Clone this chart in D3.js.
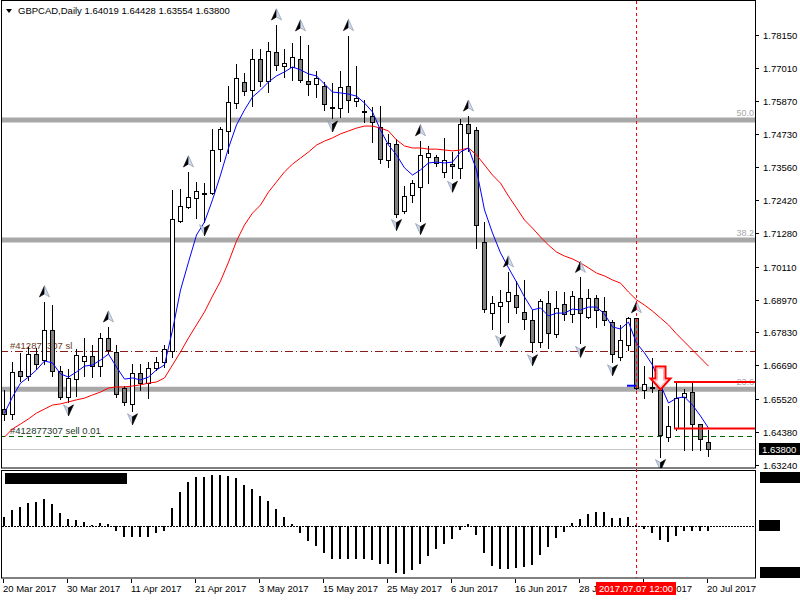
<!DOCTYPE html>
<html>
<head>
<meta charset="utf-8">
<script src="https://d3js.org/d3.v7.min.js"></script>
<style>
  body { margin: 0; background: #fff; }
  svg { display: block; font-family: "Liberation Sans", Arial, sans-serif; font-size: 9.5px; }
</style>
</head>
<body>
<script>
// GBPCAD daily, 20 Mar 2017 .. 20 Jul 2017 (89 bars)
const symbolTitle = "GBPCAD,Daily  1.64019 1.64428 1.63554 1.63800";

const open = [1.6517,1.6500,1.6649,1.6633,1.6708,1.6686,1.6790,1.6649,1.6560,1.6623,
  1.6684,1.6701,1.6666,1.6764,1.6715,1.6591,1.6535,1.6642,1.6608,1.6660,
  1.6680,1.6720,1.7171,1.7218,1.7249,1.7263,1.7267,1.7420,1.7483,1.7579,
  1.7652,1.7624,1.7732,1.7655,1.7756,1.7708,1.7705,1.7732,1.7655,1.7645,
  1.7638,1.7563,1.7562,1.7638,1.7586,1.7549,1.7535,1.7497,1.7381,1.7436,
  1.7205,1.7259,1.7289,1.7391,1.7391,1.7339,1.7367,1.7355,1.7505,1.7485,
  1.7096,1.6852,1.6873,1.6891,1.6912,1.6853,1.6826,1.6749,1.6884,1.6777,
  1.6881,1.6847,1.6901,1.6838,1.6901,1.6858,1.6818,1.6699,1.6740,1.6832,
  1.6583,1.6589,1.6583,1.6421,1.6450,1.6560,1.6575,1.6464,1.64019];
const high = [1.6583,1.6680,1.6712,1.6732,1.6729,1.6889,1.6878,1.6666,1.6656,1.6725,
  1.6764,1.6740,1.6782,1.6802,1.6739,1.6598,1.6673,1.6673,1.6680,1.6698,
  1.6739,1.7277,1.7281,1.7340,1.7305,1.7303,1.7489,1.7497,1.7638,1.7714,
  1.7683,1.7768,1.7767,1.7791,1.7850,1.7767,1.7787,1.7812,1.7780,1.7690,
  1.7653,1.7649,1.7691,1.7813,1.7709,1.7590,1.7566,1.7569,1.7470,1.7453,
  1.7291,1.7312,1.7448,1.7430,1.7399,1.7457,1.7410,1.7524,1.7534,1.7497,
  1.7166,1.6911,1.6930,1.6993,1.6963,1.6965,1.6861,1.6898,1.6927,1.6928,
  1.6924,1.6927,1.6974,1.6935,1.6913,1.6905,1.6826,1.6809,1.6838,1.6834,
  1.6666,1.6693,1.6593,1.6528,1.6612,1.6586,1.6606,1.6465,1.64428];
const low = [1.6479,1.6483,1.6614,1.6618,1.6656,1.6673,1.6633,1.6552,1.6542,1.6562,
  1.6633,1.6628,1.6633,1.6712,1.6560,1.6531,1.6511,1.6583,1.6555,1.6653,
  1.6663,1.6699,1.7167,1.7215,1.7180,1.7167,1.7265,1.7378,1.7407,1.7562,
  1.7607,1.7570,1.7638,1.7618,1.7694,1.7670,1.7659,1.7653,1.7607,1.7601,
  1.7555,1.7527,1.7532,1.7549,1.7569,1.7513,1.7445,1.7371,1.7356,1.7185,
  1.7198,1.7237,1.7171,1.7300,1.7361,1.7323,1.7318,1.7318,1.7413,1.7075,
  1.6855,1.6794,1.6782,1.6820,1.6849,1.6794,1.6716,1.6734,1.6728,1.6766,
  1.6826,1.6819,1.6745,1.6832,1.6803,1.6809,1.6681,1.6687,1.6722,1.6586,
  1.6554,1.6577,1.6352,1.6407,1.6444,1.6375,1.6375,1.6375,1.63554];
const close = [1.6500,1.6646,1.6633,1.6708,1.6673,1.6790,1.6649,1.6560,1.6625,1.6705,
  1.6701,1.6666,1.6764,1.6722,1.6570,1.6542,1.6642,1.6608,1.6660,1.6680,
  1.6725,1.7177,1.7220,1.7253,1.7275,1.7263,1.7416,1.7489,1.7583,1.7666,
  1.7622,1.7732,1.7655,1.7760,1.7711,1.7718,1.7739,1.7659,1.7645,1.7666,
  1.7576,1.7563,1.7635,1.7590,1.7596,1.7549,1.7512,1.7384,1.7439,1.7193,
  1.7257,1.7300,1.7398,1.7405,1.7370,1.7380,1.7361,1.7505,1.7474,1.7154,
  1.6865,1.6884,1.6889,1.6922,1.6870,1.6831,1.6751,1.6892,1.6780,1.6867,
  1.6847,1.6909,1.6849,1.6901,1.6861,1.6826,1.6707,1.6757,1.6832,1.6589,
  1.6604,1.6589,1.6427,1.6458,1.6554,1.6572,1.6464,1.6412,1.63800];

// moving averages as shown on the chart
const maFast = [1.6503,1.6559,1.6607,1.6628,1.6653,1.6684,1.6677,1.6639,1.6628,1.6646,
  1.6666,1.6670,1.6687,1.6708,1.6663,1.6621,1.6625,1.6618,1.6628,1.6653,
  1.6670,1.6791,1.6930,1.7027,1.7121,1.7166,1.7243,1.7329,1.7423,1.7503,
  1.7555,1.7600,1.7624,1.7652,1.7673,1.7687,1.7704,1.7694,1.7680,1.7673,
  1.7645,1.7617,1.7614,1.7610,1.7603,1.7579,1.7548,1.7485,1.7433,1.7399,
  1.7354,1.7329,1.7347,1.7371,1.7374,1.7371,1.7374,1.7409,1.7423,1.7347,
  1.7208,1.7128,1.7059,1.7007,1.6958,1.6906,1.6861,1.6868,1.6840,1.6850,
  1.6850,1.6864,1.6861,1.6871,1.6871,1.6847,1.6802,1.6795,1.6819,1.6746,
  1.6712,1.6670,1.6601,1.6538,1.6555,1.6559,1.6531,1.6493,1.6451];
const maSlow = [1.6420,1.6448,1.6465,1.6483,1.6503,1.6517,1.6531,1.6535,1.6542,1.6549,
  1.6555,1.6566,1.6576,1.6590,1.6594,1.6594,1.6597,1.6601,1.6607,1.6611,
  1.6625,1.6670,1.6715,1.6764,1.6809,1.6854,1.6909,1.6961,1.7027,1.7100,
  1.7156,1.7197,1.7225,1.7270,1.7305,1.7340,1.7367,1.7388,1.7409,1.7433,
  1.7447,1.7458,1.7472,1.7482,1.7492,1.7499,1.7499,1.7492,1.7482,1.7451,
  1.7430,1.7423,1.7423,1.7419,1.7419,1.7416,1.7413,1.7416,1.7423,1.7399,
  1.7364,1.7329,1.7301,1.7256,1.7215,1.7173,1.7145,1.7114,1.7086,1.7062,
  1.7048,1.7038,1.7024,1.7007,1.6989,1.6979,1.6965,1.6954,1.6923,1.6896,
  1.6878,1.6857,1.6833,1.6809,1.6778,1.6750,1.6722,1.6694,1.6666];

// oscillator histogram (sub window), in 1e-4 units
const osc = [27,47,57,67,70,80,65,37,20,17,10,1,7,5,
  -16,-33,-35,-35,-33,-23,-15,
  52,100,132,147,147,152,152,149,142,122,110,89,75,50,25,4,
  -23,-45,-61,-81,-100,-100,-100,-100,-101,-103,-116,-116,-141,-146,-133,-116,-90,-71,-55,-40,-13,
  5,
  -28,-83,-120,-131,-131,-128,-125,-118,-88,-65,-36,-18,
  9,19,35,40,40,22,22,25,3,
  -11,-21,-43,-48,-31,-16,-15,-15,-15];

// fractal arrows
const upArrows = [5,13,23,34,37,43,52,58,63,72,79];
const downArrows = [8,16,25,41,49,52,56,62,66,72,76,82];

// fibonacci levels
const fibLevels = [1.7520, 1.7104, 1.6586];
const fibLabels = ["50.0", "38.2", "23.6"];

// order lines
const slPrice = 1.6719, slLabel = "#412877307 sl";
const openPrice = 1.6424, openLabel = "#412877307 sell 0.01";
const bidPrice = 1.63800;

// zone lines + signal arrow
const zoneStart = 84, zoneTop = 1.6611, zoneBottom = 1.6450;
const signalIdx = 82, signalPrice = 1.6665;
const markIdx = [78, 79], markPrice = 1.6598;
const cursorIdx = 79, cursorLabel = "2017.07.07 12:00";

// axes
const priceTicks = [1.78150,1.77010,1.75870,1.74730,1.73560,1.72420,1.71280,1.70110,1.68970,1.67830,1.66690,1.65520,1.64380,1.63240];
const dateTickIdx = [0,8,16,24,32,40,48,56,64,72,80,88];
const dateTicks = ["20 Mar 2017","30 Mar 2017","11 Apr 2017","21 Apr 2017","3 May 2017","15 May 2017","25 May 2017","6 Jun 2017","16 Jun 2017","28 Jun 2017","10 Jul 2017","20 Jul 2017"];

const width = 800, height = 600;
const plotRight = 755, mainBottom = 468, subTop = 471, subBottom = 578;

const svg = d3.select("body").append("svg").attr("width", width).attr("height", height);

const x = d3.scaleLinear().domain([0, 88]).range([4, 708]);
const y = d3.scaleLinear().domain([1.63125, 1.79365]).range([mainBottom, 0]);
const yo = d3.scaleLinear().domain([-157, 164]).range([subBottom, subTop]);
const px = i => Math.round(x(i));
const py = v => Math.round(y(v)) + 0.5;

svg.append("clipPath").attr("id", "mainClip").append("rect")
  .attr("x", 1).attr("y", 1).attr("width", plotRight - 1).attr("height", mainBottom - 1);
const main = svg.append("g").attr("clip-path", "url(#mainClip)");

// fibo levels
fibLevels.forEach((v, k) => {
  main.append("line").attr("x1", 0).attr("x2", plotRight).attr("y1", y(v)).attr("y2", y(v))
    .attr("stroke", "#a8a8a8").attr("stroke-width", 5);
  main.append("text").attr("x", plotRight - 1).attr("y", y(v) - 4).attr("text-anchor", "end")
    .attr("fill", "#a8a8a8").attr("font-size", "9px").text(fibLabels[k]);
});

// order lines
main.append("line").attr("x1", 0).attr("x2", plotRight).attr("y1", py(slPrice)).attr("y2", py(slPrice))
  .attr("stroke", "#8b1a1a").attr("stroke-dasharray", "8,3,1,3");
main.append("text").attr("x", 10).attr("y", py(slPrice) - 3).attr("fill", "#6b3b22").text(slLabel);
main.append("line").attr("x1", 0).attr("x2", plotRight).attr("y1", py(openPrice)).attr("y2", py(openPrice))
  .attr("stroke", "#006400").attr("stroke-dasharray", "5,4");
main.append("text").attr("x", 10).attr("y", py(openPrice) - 3).attr("fill", "#1e3a2a").text(openLabel);
main.append("line").attr("x1", 0).attr("x2", plotRight).attr("y1", py(bidPrice)).attr("y2", py(bidPrice))
  .attr("stroke", "#c8c8c8");

// candles
const idx = d3.range(open.length);
const candle = main.selectAll("g.candle").data(idx).join("g").attr("class", "candle");
candle.append("line")
  .attr("x1", i => px(i) + 0.5).attr("x2", i => px(i) + 0.5)
  .attr("y1", i => Math.round(y(high[i]))).attr("y2", i => Math.round(y(low[i])) + 1)
  .attr("stroke", "#000");
candle.filter(i => open[i] !== close[i]).append("rect")
  .attr("x", i => px(i) - 1.5).attr("width", 4)
  .attr("y", i => py(Math.max(open[i], close[i])))
  .attr("height", i => Math.max(1, Math.round(y(Math.min(open[i], close[i]))) - Math.round(y(Math.max(open[i], close[i])))))
  .attr("fill", i => close[i] > open[i] ? "#fff" : "#808080")
  .attr("stroke", "#000");
candle.filter(i => open[i] === close[i]).append("rect")
  .attr("x", i => px(i) - 2).attr("width", 5)
  .attr("y", i => Math.round(y(close[i])) - 1).attr("height", 2).attr("fill", "#000");

// moving averages
const maLine = arr => d3.line().x((d, i) => x(i) + 0.5).y(d => y(d))(arr);
main.append("path").attr("d", maLine(maSlow)).attr("fill", "none").attr("stroke", "#ff0000");
main.append("path").attr("d", maLine(maFast)).attr("fill", "none").attr("stroke", "#0000ff");
main.append("line").attr("x1", px(markIdx[0]) - 1).attr("x2", px(markIdx[1]))
  .attr("y1", y(markPrice)).attr("y2", y(markPrice)).attr("stroke", "#0000ff").attr("stroke-width", 2);

// fractal arrows
function arrow(cx, cy, up) {
  const s = up ? 1 : -1;
  const g = main.append("g").attr("transform", `translate(${cx + 0.5},${cy})`);
  g.append("path").attr("d", `M0,${-6 * s} L-5,${5 * s} L0,${2 * s} Z`)
    .attr("fill", up ? "#000" : "#c8d2e4").attr("stroke", up ? "#000" : "#8a96b0").attr("stroke-width", 0.7);
  g.append("path").attr("d", `M0,${-6 * s} L5,${5 * s} L0,${2 * s} Z`)
    .attr("fill", up ? "#d4dcea" : "#000").attr("stroke", up ? "#8a96b0" : "#000").attr("stroke-width", 0.7);
}
upArrows.forEach(i => arrow(px(i), y(high[i]) - 10, true));
downArrows.forEach(i => arrow(px(i), y(low[i]) + 8, false));

// zone lines
[zoneTop, zoneBottom].forEach(v => {
  main.append("line").attr("x1", px(zoneStart) - 2).attr("x2", plotRight)
    .attr("y1", y(v)).attr("y2", y(v)).attr("stroke", "#ff0000").attr("stroke-width", 2);
});

// signal arrow
{
  const cx = px(signalIdx) + 0.5, top = y(signalPrice);
  main.append("path")
    .attr("d", `M${cx - 5},${top} L${cx + 5},${top} L${cx + 5},${top + 12} L${cx + 10},${top + 12} L${cx},${top + 23} L${cx - 10},${top + 12} L${cx - 5},${top + 12} Z`)
    .attr("fill", "#fff").attr("stroke", "#ff0000").attr("stroke-width", 2);
  main.append("path")
    .attr("d", `M${cx - 3},${top + 2} L${cx + 3},${top + 2} L${cx + 3},${top + 14} L${cx + 6},${top + 14} L${cx},${top + 20} L${cx - 6},${top + 14} L${cx - 3},${top + 14} Z`)
    .attr("fill", "none").attr("stroke", "#ffb0b0").attr("stroke-width", 1);
}

// frames
svg.append("rect").attr("x", 1.5).attr("y", 0.5).attr("width", plotRight - 1).attr("height", mainBottom - 0.5)
  .attr("fill", "none").attr("stroke", "#000");
svg.append("rect").attr("x", 1.5).attr("y", subTop - 0.5).attr("width", plotRight - 1).attr("height", subBottom - subTop + 0.5)
  .attr("fill", "none").attr("stroke", "#000");

// title
svg.append("path").attr("d", "M6,9 L12,9 L9,13 Z").attr("fill", "#000");
svg.append("text").attr("x", 18).attr("y", 14).attr("fill", "#000").text(symbolTitle);

// price axis
const pa = svg.append("g");
priceTicks.forEach(v => {
  const yy = py(v);
  pa.append("line").attr("x1", plotRight + 1).attr("x2", plotRight + 4).attr("y1", yy).attr("y2", yy).attr("stroke", "#000");
  pa.append("text").attr("x", 763).attr("y", yy + 3.5).attr("fill", "#000").text(v.toFixed(5));
});
pa.append("rect").attr("x", 759).attr("y", py(bidPrice) - 6.5).attr("width", 41).attr("height", 12).attr("fill", "#000");
pa.append("text").attr("x", 762).attr("y", py(bidPrice) + 3.5).attr("fill", "#fff").text(bidPrice.toFixed(5));

// oscillator window
const sub = svg.append("g");
sub.append("line").attr("x1", 2).attr("x2", plotRight).attr("y1", Math.round(yo(0)) + 0.5).attr("y2", Math.round(yo(0)) + 0.5)
  .attr("stroke", "#000").attr("stroke-dasharray", "2,1");
sub.selectAll("rect.bar").data(osc).join("rect").attr("class", "bar")
  .attr("x", (d, i) => px(i) - 1).attr("width", 2)
  .attr("y", d => Math.round(Math.min(yo(0), yo(d))))
  .attr("height", d => Math.abs(Math.round(yo(d)) - Math.round(yo(0))))
  .attr("fill", "#000");
sub.append("rect").attr("x", 5).attr("y", 473).attr("width", 122).attr("height", 11).attr("fill", "#000");
sub.append("rect").attr("x", 760).attr("y", 472).attr("width", 40).attr("height", 11).attr("fill", "#000");
sub.append("rect").attr("x", 759).attr("y", 520).attr("width", 21).attr("height", 11).attr("fill", "#000");
sub.append("rect").attr("x", 760).attr("y", 567).attr("width", 40).attr("height", 11).attr("fill", "#000");

// cursor line
svg.append("line").attr("x1", px(cursorIdx) + 0.5).attr("x2", px(cursorIdx) + 0.5).attr("y1", 1).attr("y2", subBottom)
  .attr("stroke", "#ff0000").attr("stroke-dasharray", "3,3");

// time axis
const ta = svg.append("g");
dateTickIdx.forEach((i, k) => {
  ta.append("line").attr("x1", px(i) - 0.5).attr("x2", px(i) - 0.5).attr("y1", subBottom + 1).attr("y2", subBottom + 5).attr("stroke", "#000");
  ta.append("text").attr("x", px(i) - 1).attr("y", 592).attr("fill", "#000").text(dateTicks[k]);
});
ta.append("rect").attr("x", px(cursorIdx) - 40).attr("y", 582).attr("width", 80).attr("height", 13).attr("fill", "#ff0000");
ta.append("text").attr("x", px(cursorIdx)).attr("y", 592).attr("text-anchor", "middle").attr("fill", "#fff").text(cursorLabel);
</script>
</body>
</html>
